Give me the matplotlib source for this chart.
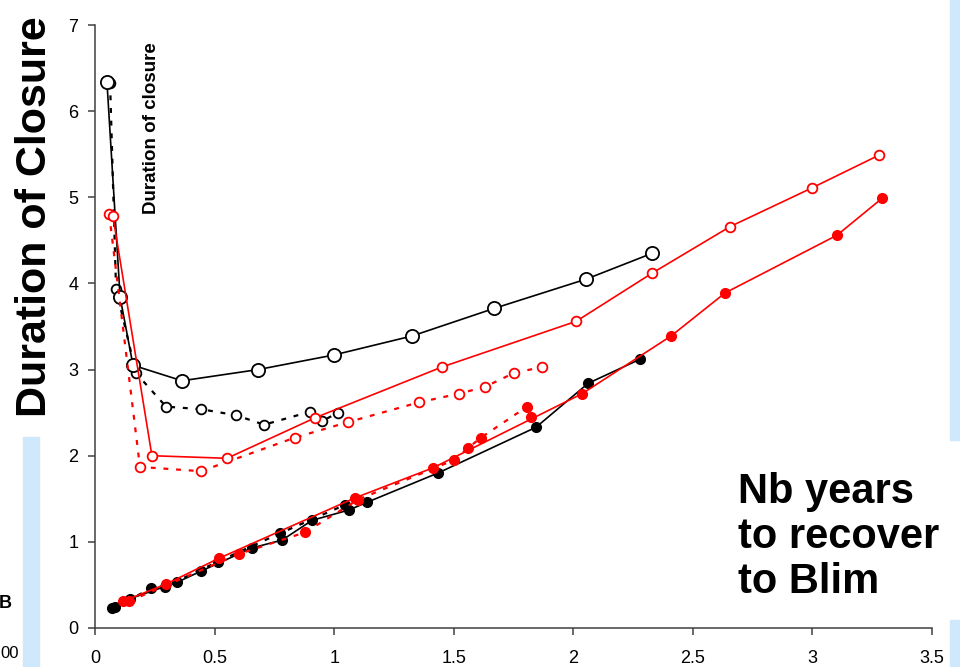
import matplotlib
matplotlib.use("Agg")
import matplotlib.pyplot as plt
from matplotlib.patches import Rectangle

plt.rcParams["font.family"] = ["Liberation Sans", "DejaVu Sans"]

# open black, solid line (large markers)
black_open_solid_x = [0.050, 0.105, 0.159, 0.364, 0.682, 1.000, 1.326, 1.669, 2.054, 2.330]
black_open_solid_y = [6.34, 3.84, 3.05, 2.87, 3.00, 3.17, 3.39, 3.71, 4.05, 4.35]

# open black, dotted line (small markers)
black_open_dot_x = [0.063, 0.088, 0.171, 0.297, 0.443, 0.590, 0.707, 0.899, 0.949, 1.016]
black_open_dot_y = [6.33, 3.94, 2.96, 2.57, 2.54, 2.47, 2.36, 2.51, 2.40, 2.50]

# open red, solid line
red_open_solid_x = [0.075, 0.238, 0.552, 0.920, 1.451, 2.012, 2.330, 2.656, 2.999, 3.279]
red_open_solid_y = [4.78, 2.00, 1.97, 2.44, 3.03, 3.56, 4.12, 4.66, 5.11, 5.49]

# open red, dotted line
red_open_dot_x = [0.059, 0.188, 0.443, 0.836, 1.058, 1.355, 1.522, 1.631, 1.752, 1.870]
red_open_dot_y = [4.81, 1.87, 1.82, 2.21, 2.39, 2.62, 2.72, 2.80, 2.96, 3.03]

# filled black, solid line
black_fill_solid_x = [0.071, 0.146, 0.343, 0.443, 0.657, 0.782, 0.908, 1.062, 1.138, 1.435,
                      1.844, 2.062, 2.279]
black_fill_solid_y = [0.23, 0.34, 0.53, 0.66, 0.93, 1.02, 1.25, 1.37, 1.46, 1.80,
                      2.33, 2.84, 3.12]

# filled black, dotted line
black_fill_dot_x = [0.084, 0.234, 0.293, 0.514, 0.774, 1.046]
black_fill_dot_y = [0.24, 0.46, 0.48, 0.77, 1.10, 1.43]

# filled red, solid line
red_fill_solid_x = [0.117, 0.297, 0.519, 1.087, 1.414, 2.037, 2.409, 2.635, 3.103, 3.292]
red_fill_solid_y = [0.31, 0.51, 0.81, 1.51, 1.86, 2.72, 3.39, 3.89, 4.56, 4.99]

# filled red, dotted line
red_fill_dot_x = [0.142, 0.602, 0.878, 1.100, 1.501, 1.560, 1.614, 1.807, 1.823]
red_fill_dot_y = [0.31, 0.86, 1.11, 1.49, 1.95, 2.09, 2.21, 2.57, 2.45]

x_ticks = [0, 0.5, 1, 1.5, 2, 2.5, 3, 3.5]
x_tick_labels = ["0", "0.5", "1", "1.5", "2", "2.5", "3", "3.5"]
y_ticks = [0, 1, 2, 3, 4, 5, 6, 7]

DOT = (0, (2.2, 3.5))

fig = plt.figure(figsize=(9.6, 6.67), dpi=100)

# light blue strips from the slide background
for x0, y0, w, h in [(23, 0, 16, 230), (950, 227, 10, 440), (950, 0, 10, 47)]:
    fig.add_artist(Rectangle((x0 / 960, y0 / 667), w / 960, h / 667,
                             transform=fig.transFigure, color="#cfe8fb", zorder=0))

ax = fig.add_axes([95 / 960, 39 / 667, 837 / 960, 603 / 667])
ax.patch.set_alpha(0)

ax.plot(black_open_dot_x, black_open_dot_y, color="black", lw=1.6, ls=DOT,
        marker="o", ms=7, mfc="white", mec="black", mew=1.3, clip_on=False)
ax.plot(black_open_solid_x, black_open_solid_y, color="black", lw=1.2,
        marker="o", ms=9.5, mfc="white", mec="black", mew=1.3, clip_on=False)
ax.plot(black_fill_dot_x, black_fill_dot_y, color="black", lw=1.6, ls=DOT,
        marker="o", ms=7, mfc="black", mec="black", clip_on=False)
ax.plot(black_fill_solid_x, black_fill_solid_y, color="black", lw=1.2,
        marker="o", ms=7, mfc="black", mec="black", clip_on=False)
ax.plot(red_open_dot_x, red_open_dot_y, color="red", lw=1.6, ls=DOT,
        marker="o", ms=7, mfc="white", mec="red", mew=1.3, clip_on=False)
ax.plot(red_open_solid_x, red_open_solid_y, color="red", lw=1.2,
        marker="o", ms=7, mfc="white", mec="red", mew=1.3, clip_on=False)
ax.plot(red_fill_dot_x, red_fill_dot_y, color="red", lw=1.6, ls=DOT,
        marker="o", ms=7, mfc="red", mec="red", clip_on=False)
ax.plot(red_fill_solid_x, red_fill_solid_y, color="red", lw=1.2,
        marker="o", ms=7, mfc="red", mec="red", clip_on=False)

ax.set_xlim(0, 3.5)
ax.set_ylim(0, 7)
ax.set_xticks(x_ticks)
ax.set_xticklabels(x_tick_labels)
ax.set_yticks(y_ticks)
ax.spines["top"].set_visible(False)
ax.spines["right"].set_visible(False)
for s in ["left", "bottom"]:
    ax.spines[s].set_color("#404040")
    ax.spines[s].set_linewidth(1.1)
ax.tick_params(axis="both", direction="out", length=5, width=1.1, color="#404040",
               labelsize=13)
ax.tick_params(axis="x", pad=11)
ax.tick_params(axis="y", pad=7)

fig.text(35 / 960, 1 - 217 / 667, "Duration of Closure", rotation=90, fontsize=31,
         fontweight="bold", ha="center", va="center")
fig.text(152 / 960, 1 - 128 / 667, "Duration of closure", rotation=90, fontsize=13.5,
         fontweight="bold", ha="center", va="center")
fig.text(738 / 960, 1 - 537 / 667, "Nb years\nto recover\nto Blim", fontsize=30,
         fontweight="bold", ha="left", va="center", linespacing=1.15)
fig.text(12 / 960, 1 - 603 / 667, "B", fontsize=13, fontweight="bold",
         ha="right", va="center")
fig.text(19 / 960, 1 - 653 / 667, "00", fontsize=12, ha="right", va="center")

fig.savefig("out.png", dpi=100)
